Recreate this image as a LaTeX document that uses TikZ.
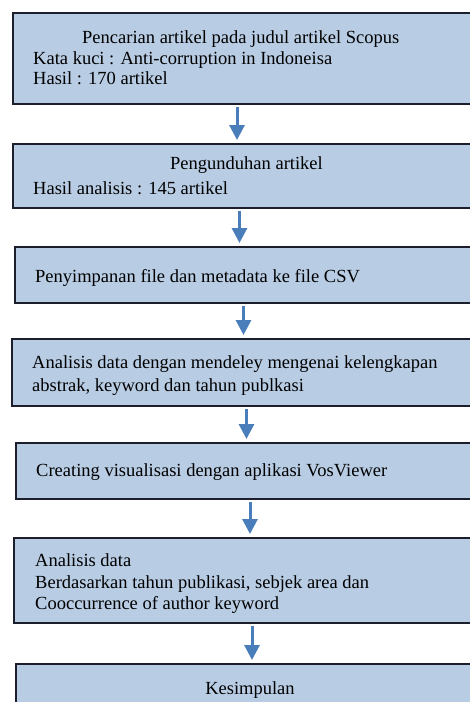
\documentclass[tikz,border=0pt]{standalone}
\usepackage{fontspec}
\setmainfont{Liberation Serif}
\usetikzlibrary{arrows.meta}
\definecolor{boxfill}{HTML}{B8CCE4}
\definecolor{boxline}{HTML}{1C1F2B}
\definecolor{arrowblue}{HTML}{4A7EBB}
\begin{document}
\begin{tikzpicture}[x=1pt,y=-1pt,
  stepbox/.style={draw=boxline, line width=2pt, fill=boxfill, rectangle, inner sep=0pt, anchor=north west},
  txt/.style={anchor=base west, inner sep=0pt, font=\fontsize{18.5}{22}\selectfont},
  ctxt/.style={anchor=base, inner sep=0pt, font=\fontsize{18.5}{22}\selectfont},
  flow/.style={draw=arrowblue, line width=3pt, -{Triangle[width=15pt,length=15pt]}, shorten <=2pt, shorten >=3pt}]
\useasboundingbox (0,0) rectangle (470,702);
\clip (0,0) rectangle (470,702);
\fill[white] (0,0) rectangle (470,702);
% boxes
\node[stepbox, minimum width=470pt, minimum height=91pt] (b1) at (12,12) {};
\node[stepbox, minimum width=470pt, minimum height=64pt] (b2) at (12,143) {};
\node[stepbox, minimum width=468pt, minimum height=56pt] (b3) at (14,246) {};
\node[stepbox, minimum width=471pt, minimum height=67pt] (b4) at (11,338) {};
\node[stepbox, minimum width=467pt, minimum height=56pt] (b5) at (15,442) {};
\node[stepbox, minimum width=469pt, minimum height=85pt] (b6) at (13,537) {};
\node[stepbox, minimum width=470pt, minimum height=60pt] (b7) at (15,663) {};
% texts
\node[txt] (t1a) at (82,43) {Pencarian artikel pada judul artikel Scopus};
\node[txt] (t1b) at (33,64) {Kata kuci : Anti-corruption in Indoneisa};
\node[txt] (t1c) at (33,84) {Hasil : 170 artikel};
\node[txt] (t2a) at (170,169) {Pengunduhan artikel};
\node[txt] (t2b) at (33,194) {Hasil analisis : 145 artikel};
\node[txt] (t3a) at (35,282) {Penyimpanan file dan metadata ke file CSV};
\node[txt] (t4a) at (32,368) {Analisis data dengan mendeley mengenai kelengkapan};
\node[txt] (t4b) at (32,391) {abstrak, keyword dan tahun publkasi};
\node[txt] (t5a) at (36,476) {Creating visualisasi dengan aplikasi VosViewer};
\node[txt] (t6a) at (35,566) {Analisis data};
\node[txt] (t6b) at (35,588) {Berdasarkan tahun publikasi, sebjek area dan};
\node[txt] (t6c) at (35,609) {Cooccurrence of author keyword};
\node[ctxt] (t7a) at (250,694) {Kesimpulan};
% arrow columns
\coordinate (x1) at (237,0);
\coordinate (x2) at (239.5,0);
\coordinate (x3) at (243.5,0);
\coordinate (x4) at (246.5,0);
\coordinate (x5) at (250,0);
\coordinate (x6) at (252,0);
\draw[flow] (b1.south -| x1) -- (b2.north -| x1);
\draw[flow] (b2.south -| x2) -- (b3.north -| x2);
\draw[flow] (b3.south -| x3) -- (b4.north -| x3);
\draw[flow] (b4.south -| x4) -- (b5.north -| x4);
\draw[flow] (b5.south -| x5) -- (b6.north -| x5);
\draw[flow] (b6.south -| x6) -- (b7.north -| x6);
\end{tikzpicture}
\end{document}
